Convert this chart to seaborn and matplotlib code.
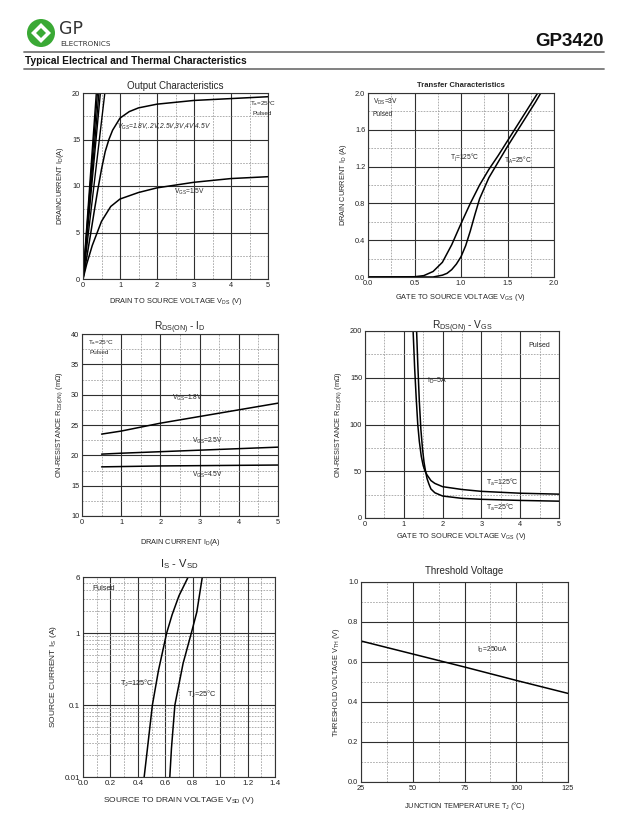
import numpy as np
import pandas as pd
import matplotlib
matplotlib.use("Agg")
import matplotlib.pyplot as plt
from matplotlib.patches import Ellipse, Polygon
import seaborn as sns

# ---------------- data ----------------
# Output characteristics
out_x_15 = [0, 0.1, 0.25, 0.5, 0.75, 1.0, 1.5, 2.0, 2.5, 3.0, 3.5, 4.0, 4.5, 5.0]
out_y_15 = [0, 1.6, 3.6, 6.2, 7.8, 8.6, 9.3, 9.8, 10.1, 10.4, 10.6, 10.8, 10.9, 11.0]
out_x_18 = [0, 0.1, 0.2, 0.3, 0.4, 0.5, 0.6, 0.7, 0.8, 1.0, 1.25, 1.5, 2.0, 2.5, 3.0, 4.0, 5.0]
out_y_18 = [0, 2.3, 4.7, 7.2, 9.6, 11.8, 13.7, 15.0, 16.0, 17.3, 18.0, 18.4, 18.8, 19.0, 19.2, 19.4, 19.6]
out_vgs_hi = ["2V", "2.5V", "3V", "4V", "4.5V"]
out_x20_hi = [0.59, 0.47, 0.43, 0.39, 0.36]   # Vds where Id reaches 20 A

# Transfer characteristics
tr_x_125 = [0.0, 0.5, 0.6, 0.7, 0.8, 0.9, 1.0, 1.1, 1.2, 1.3, 1.4, 1.5, 1.6, 1.7, 1.8, 1.85]
tr_y_125 = [0.0, 0.003, 0.015, 0.06, 0.16, 0.35, 0.58, 0.8, 1.0, 1.17, 1.32, 1.48, 1.64, 1.8, 1.96, 2.04]
tr_x_25 = [0.0, 0.7, 0.8, 0.85, 0.9, 0.95, 1.0, 1.05, 1.1, 1.15, 1.2, 1.3, 1.4, 1.5, 1.6, 1.7, 1.8, 1.87]
tr_y_25 = [0.0, 0.0, 0.02, 0.04, 0.08, 0.14, 0.22, 0.34, 0.5, 0.68, 0.85, 1.08, 1.25, 1.42, 1.58, 1.74, 1.9, 2.02]

# Rds(on) vs Id
rid_x = [0.5, 1.0, 2.0, 3.0, 4.0, 5.0]
rid_18 = [23.5, 24.0, 25.3, 26.4, 27.5, 28.6]
rid_25 = [20.2, 20.35, 20.6, 20.85, 21.1, 21.35]
rid_45 = [18.1, 18.15, 18.25, 18.3, 18.35, 18.4]

# Rds(on) vs Vgs
rvg_x_125 = [1.24, 1.28, 1.32, 1.36, 1.4, 1.45, 1.5, 1.55, 1.6, 1.7, 1.8, 2.0, 2.5, 3.0, 4.0, 5.0]
rvg_y_125 = [200, 160, 128, 100, 82, 66, 56, 50, 46, 40, 37, 33.5, 30.5, 28.5, 26.5, 25.5]
rvg_x_25 = [1.33, 1.36, 1.4, 1.44, 1.48, 1.52, 1.56, 1.6, 1.65, 1.7, 1.8, 2.0, 2.5, 3.0, 4.0, 5.0]
rvg_y_25 = [200, 165, 125, 95, 75, 60, 50, 42, 36, 31, 27, 23.5, 21, 20, 18.8, 18]

# Is vs Vsd
sd_x_125 = [0.446, 0.47, 0.506, 0.55, 0.61, 0.65, 0.70, 0.767]
sd_y_125 = [0.01, 0.025, 0.1, 0.3, 1.0, 1.8, 3.3, 6.0]
sd_x_25 = [0.633, 0.645, 0.67, 0.73, 0.79, 0.83, 0.87]
sd_y_25 = [0.01, 0.025, 0.1, 0.38, 1.0, 1.96, 6.0]

# Threshold voltage
vth_t = [25, 50, 75, 100, 125]
vth_v = [0.705, 0.64, 0.575, 0.508, 0.443]

# ---------------- style ----------------
sns.set_theme(style="white")
plt.rcParams['font.family'] = ['Liberation Sans', 'DejaVu Sans']
plt.rcParams['mathtext.fontset'] = 'custom'
plt.rcParams['mathtext.rm'] = 'Liberation Sans'

W, H = 632, 818
fig = plt.figure(figsize=(W / 100, H / 100), dpi=100)
fig.patch.set_facecolor('white')

def box(x0, y0, x1, y1):
    return [x0 / W, 1 - y1 / H, (x1 - x0) / W, (y1 - y0) / H]

FS = 5.3
MAJ = dict(color='#2f2f2f', lw=0.8, ls='-')
MIN = dict(color='#9a9a9a', lw=0.55, ls=(0, (2.2, 1.6)))
DEG = "°C"

def setup(ax, xlim, ylim, xmaj, xmin, ymaj, ymin, xlabels=None, ylabels=None):
    ax.set_xlim(*xlim)
    ax.set_ylim(*ylim)
    ax.set_xticks(xmaj)
    ax.set_xticks(xmin, minor=True)
    ax.set_yticks(ymaj)
    ax.set_yticks(ymin, minor=True)
    if xlabels is not None:
        ax.set_xticklabels(xlabels)
    if ylabels is not None:
        ax.set_yticklabels(ylabels)
    ax.grid(True, which='major', **MAJ)
    ax.grid(True, which='minor', **MIN)
    ax.tick_params(which='both', length=0, pad=2, labelsize=FS, colors='#222222')
    for s in ax.spines.values():
        s.set_color('#333333')
        s.set_linewidth(0.8)
    ax.set_axisbelow(True)

def curve(ax, x, y, lw=1.1):
    sns.lineplot(x=x, y=y, ax=ax, color='black', lw=lw, sort=False, estimator=None)

def sub(main, s):
    return main + r"$_{\mathregular{" + s + "}}$"

# ---------------- header ----------------
GREEN = '#3aa935'
fig.add_artist(Ellipse((41 / W, 1 - 33 / H), 28 / W, 28 / H, transform=fig.transFigure,
                       facecolor=GREEN, edgecolor='none'))
fig.add_artist(Polygon([(41 / W, 1 - 23 / H), (51 / W, 1 - 33 / H), (41 / W, 1 - 43 / H), (31 / W, 1 - 33 / H)],
                       closed=True, transform=fig.transFigure, facecolor='white', edgecolor='none'))
fig.add_artist(Polygon([(41 / W, 1 - 28 / H), (46 / W, 1 - 33 / H), (41 / W, 1 - 38 / H), (36 / W, 1 - 33 / H)],
                       closed=True, transform=fig.transFigure, facecolor=GREEN, edgecolor='none'))
fig.text(59 / W, 1 - 29.5 / H, "GP", fontsize=12.5, color='#333333', va='center', ha='left',
         family=['DejaVu Sans'])
fig.text(60 / W, 1 - 43.5 / H, "ELECTRONICS", fontsize=5.2, color='#333333', va='center', ha='left',
         family=['DejaVu Sans'])
fig.text(604 / W, 1 - 42 / H, "GP3420", fontsize=13.5, fontweight='bold', ha='right', va='center',
         color='#111111')
fig.add_artist(plt.Line2D([24 / W, 604 / W], [1 - 52 / H, 1 - 52 / H], transform=fig.transFigure,
                          color='#777777', lw=1.3))
fig.text(25 / W, 1 - 61.5 / H, "Typical Electrical and Thermal Characteristics", fontsize=7.3,
         fontweight='bold', ha='left', va='center', color='#111111')
fig.add_artist(plt.Line2D([24 / W, 604 / W], [1 - 68.5 / H, 1 - 68.5 / H], transform=fig.transFigure,
                          color='#777777', lw=1.3))

# ---------------- panel 1: output characteristics ----------------
ax1 = fig.add_axes(box(83, 93, 268, 279))
setup(ax1, (0, 5), (0, 20), [0, 1, 2, 3, 4, 5], [0.5, 1.5, 2.5, 3.5, 4.5],
      [0, 5, 10, 15, 20], [2.5, 7.5, 12.5, 17.5])
curve(ax1, out_x_15, out_y_15)
curve(ax1, out_x_18, out_y_18)
for v, xe in zip(out_vgs_hi, out_x20_hi):
    curve(ax1, [0, xe * 1.04], [0, 20 * 1.04], lw=1.0)
ax1.set_title("Output Characteristics", fontsize=7, pad=3)
ax1.set_xlabel(sub("DRAIN TO SOURCE VOLTAGE V", "DS") + " (V)", fontsize=FS, labelpad=5)
ax1.set_ylabel(sub("DRAINCURRENT I", "D") + "(A)", fontsize=FS, labelpad=4)
ax1.text(0.93, 16.4, sub("V", "GS") + "=1.8V,.2V,2.5V,3V,4V,4.5V", fontsize=4.8, fontstyle='italic',
         va='center')
ax1.text(2.45, 9.4, sub("V", "GS") + "=1.5V", fontsize=4.8, va='center')
ax1.text(4.5, 18.9, sub("T", "a") + "=25" + DEG, fontsize=4.6, va='center')
ax1.text(4.58, 17.8, "Pulsed", fontsize=4.6, va='center')

# ---------------- panel 2: transfer characteristics ----------------
ax2 = fig.add_axes(box(368, 93, 554, 277))
setup(ax2, (0, 2), (0, 2), [0, 0.5, 1.0, 1.5, 2.0], [0.25, 0.75, 1.25, 1.75],
      [0, 0.4, 0.8, 1.2, 1.6, 2.0], [0.2, 0.6, 1.0, 1.4, 1.8],
      ["0.0", "0.5", "1.0", "1.5", "2.0"], ["0.0", "0.4", "0.8", "1.2", "1.6", "2.0"])
curve(ax2, tr_x_125, tr_y_125)
curve(ax2, tr_x_25, tr_y_25)
ax2.set_title("Transfer Characteristics", fontsize=5.5, fontweight='bold', pad=4)
ax2.set_xlabel(sub("GATE TO SOURCE VOLTAGE V", "GS") + " (V)", fontsize=FS, labelpad=4)
ax2.set_ylabel(sub("DRAIN CURRENT I", "D") + " (A)", fontsize=FS, labelpad=4)
ax2.text(0.05, 1.9, sub("V", "DS") + "=3V", fontsize=4.8, va='center')
ax2.text(0.05, 1.77, "Pulsed", fontsize=4.8, va='center')
ax2.text(0.88, 1.3, sub("T", "j") + "=125" + DEG, fontsize=4.8, va='center')
ax2.text(1.46, 1.27, sub("T", "A") + "=25" + DEG, fontsize=4.8, va='center')

# ---------------- panel 3: Rds(on) vs Id ----------------
ax3 = fig.add_axes(box(82, 334, 278, 516))
setup(ax3, (0, 5), (10, 40), [0, 1, 2, 3, 4, 5], [0.5, 1.5, 2.5, 3.5, 4.5],
      [10, 15, 20, 25, 30, 35, 40], [12.5, 17.5, 22.5, 27.5, 32.5, 37.5])
curve(ax3, rid_x, rid_18)
curve(ax3, rid_x, rid_25)
curve(ax3, rid_x, rid_45)
ax3.set_title(sub("R", "DS(ON)") + " - " + sub("I", "D"), fontsize=7.3, pad=3)
ax3.set_xlabel(sub("DRAIN CURRENT I", "D") + "(A)", fontsize=FS, labelpad=8)
ax3.set_ylabel(sub("ON-RESISTANCE R", "DS(ON)") + " (mΩ)", fontsize=FS, labelpad=4)
ax3.text(0.15, 38.6, sub("T", "a") + "=25" + DEG, fontsize=4.6, va='center')
ax3.text(0.2, 37.0, "Pulsed", fontsize=4.6, va='center')
ax3.text(2.3, 29.4, sub("V", "GS") + "=1.8V", fontsize=4.8, va='center')
ax3.text(2.8, 22.3, sub("V", "GS") + "=2.5V", fontsize=4.8, va='center')
ax3.text(2.8, 16.8, sub("V", "GS") + "=4.5V", fontsize=4.8, va='center')

# ---------------- panel 4: Rds(on) vs Vgs ----------------
ax4 = fig.add_axes(box(365, 331, 559, 518))
setup(ax4, (0, 5), (0, 200), [0, 1, 2, 3, 4, 5], [0.5, 1.5, 2.5, 3.5, 4.5],
      [0, 50, 100, 150, 200], [25, 75, 125, 175])
curve(ax4, rvg_x_125, rvg_y_125)
curve(ax4, rvg_x_25, rvg_y_25)
ax4.set_title(sub("R", "DS(ON)") + " - " + sub("V", "GS"), fontsize=7.3, pad=1)
ax4.set_xlabel(sub("GATE TO SOURCE VOLTAGE V", "GS") + " (V)", fontsize=FS, labelpad=2)
ax4.set_ylabel(sub("ON-RESISTANCE R", "DS(ON)") + " (mΩ)", fontsize=FS, labelpad=4)
ax4.text(4.2, 185, "Pulsed", fontsize=5, va='center')
ax4.text(1.6, 147, sub("I", "D") + "=5A", fontsize=5, va='center')
ax4.text(3.12, 38.5, sub("T", "a") + "=125" + DEG, fontsize=5, va='center')
ax4.text(3.12, 11.5, sub("T", "a") + "=25" + DEG, fontsize=5, va='center')

# ---------------- panel 5: Is vs Vsd ----------------
ax5 = fig.add_axes(box(83, 577, 275, 777))
ax5.set_yscale('log')
ymin5 = [m * d for d in (0.01, 0.1) for m in range(2, 10)] + [2, 3, 4, 5]
setup(ax5, (0, 1.4), (0.01, 6),
      [0, 0.2, 0.4, 0.6, 0.8, 1.0, 1.2, 1.4], [0.1, 0.3, 0.5, 0.7, 0.9, 1.1, 1.3],
      [0.01, 0.1, 1, 6], ymin5,
      ["0.0", "0.2", "0.4", "0.6", "0.8", "1.0", "1.2", "1.4"], ["0.01", "0.1", "1", "6"])
ax5.yaxis.set_minor_formatter(matplotlib.ticker.NullFormatter())
curve(ax5, sd_x_125, sd_y_125)
curve(ax5, sd_x_25, sd_y_25)
ax5.set_title(sub("I", "S") + " - " + sub("V", "SD"), fontsize=8, pad=7)
ax5.set_xlabel(sub("SOURCE TO DRAIN VOLTAGE V", "SD") + " (V)", fontsize=6, labelpad=6)
ax5.set_ylabel(sub("SOURCE CURRENT I", "S") + " (A)", fontsize=6, labelpad=4)
ax5.tick_params(labelsize=5.8)
ax5.text(0.07, 4.1, "Pulsed", fontsize=5.3, va='center')
ax5.text(0.27, 0.2, sub("T", "J") + "=125" + DEG, fontsize=5.3, va='center')
ax5.text(0.755, 0.14, sub("T", "J") + "=25" + DEG, fontsize=5.3, va='center')

# ---------------- panel 6: threshold voltage ----------------
ax6 = fig.add_axes(box(361, 582, 568, 782))
setup(ax6, (25, 125), (0, 1.0), [25, 50, 75, 100, 125], [37.5, 62.5, 87.5, 112.5],
      [0, 0.2, 0.4, 0.6, 0.8, 1.0], [0.1, 0.3, 0.5, 0.7, 0.9],
      ["25", "50", "75", "100", "125"], ["0.0", "0.2", "0.4", "0.6", "0.8", "1.0"])
curve(ax6, vth_t, vth_v)
ax6.set_title("Threshold Voltage", fontsize=7, pad=6)
ax6.set_xlabel(sub("JUNCTION TEMPERATURE T", "J") + " (" + DEG + ")", fontsize=FS, labelpad=6)
ax6.set_ylabel(sub("THRESHOLD VOLTAGE V", "TH") + " (V)", fontsize=FS, labelpad=4)
ax6.text(81, 0.66, sub("I", "D") + "=250uA", fontsize=4.8, va='center')

fig.savefig("out.png", dpi=100, facecolor='white')
